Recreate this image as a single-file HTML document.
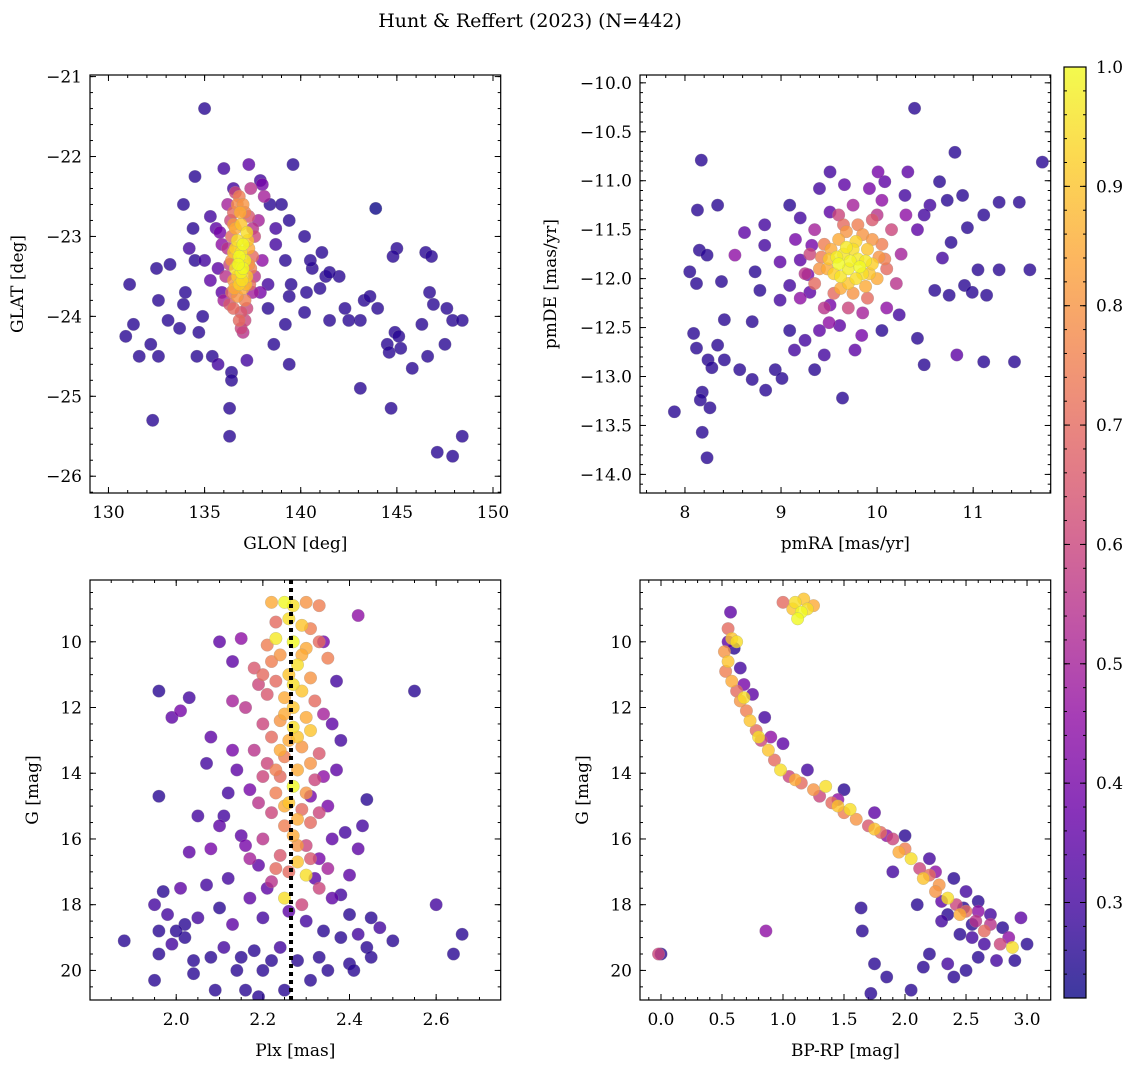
<!DOCTYPE html>
<html><head><meta charset="utf-8"><style>
html,body{margin:0;padding:0;background:#fff}
svg{display:block}
text{font-family:"DejaVu Serif","Liberation Serif",serif;fill:#000}
</style></head><body>
<svg id="fig" width="1136" height="1067" xmlns="http://www.w3.org/2000/svg">
<text x="530" y="27" font-size="19" text-anchor="middle">Hunt &amp; Reffert (2023) (N=442)</text>
</svg>
<script>
// ---- data (x, y, membership probability) ----
const glonGlatField = [[135.0,-21.4,.26],[134.5,-22.25,.26],[136.5,-22.4,.3],[137.9,-22.3,.3],[139.6,-22.1,.26],[133.9,-22.6,.26],[134.4,-22.9,.26],[135.3,-22.75,.3],[138.4,-22.6,.26],[139.0,-22.6,.26],[139.4,-22.8,.26],[138.7,-23.1,.3],[139.2,-23.3,.26],[140.2,-23.0,.26],[141.1,-23.2,.26],[143.9,-22.65,.22],[145.0,-23.15,.26],[144.8,-23.25,.26],[146.5,-23.2,.26],[146.8,-23.25,.26],[141.3,-23.5,.26],[142.0,-23.5,.26],[140.6,-23.4,.26],[140.3,-23.7,.26],[138.3,-23.6,.3],[139.5,-23.6,.26],[139.4,-23.75,.26],[141.0,-23.65,.26],[142.3,-23.9,.26],[143.3,-23.8,.26],[143.6,-23.75,.26],[143.1,-24.05,.26],[144.0,-23.9,.26],[142.5,-24.05,.26],[141.5,-24.05,.26],[140.2,-23.95,.26],[139.2,-24.1,.26],[138.6,-24.35,.26],[139.4,-24.6,.26],[136.4,-24.7,.26],[136.4,-24.8,.26],[136.3,-25.15,.26],[136.3,-25.5,.26],[137.2,-24.55,.3],[135.4,-24.5,.26],[134.7,-24.2,.26],[134.6,-24.5,.26],[135.7,-24.6,.3],[133.7,-24.15,.26],[133.1,-24.05,.26],[132.6,-23.8,.26],[131.1,-23.6,.26],[131.3,-24.1,.26],[130.9,-24.25,.26],[131.6,-24.5,.26],[132.6,-24.5,.26],[132.2,-24.35,.26],[132.3,-25.3,.26],[132.5,-23.4,.26],[133.2,-23.35,.26],[133.9,-23.85,.26],[134.0,-23.7,.26],[134.5,-23.3,.26],[134.2,-23.15,.3],[135.0,-23.3,.3],[135.3,-23.55,.35],[135.7,-23.4,.35],[134.9,-24.0,.26],[143.1,-24.9,.26],[144.5,-24.35,.26],[144.6,-24.45,.26],[144.9,-24.2,.26],[145.1,-24.25,.26],[145.2,-24.4,.26],[144.7,-25.15,.26],[145.8,-24.65,.26],[146.3,-24.1,.26],[146.6,-24.5,.26],[146.7,-23.7,.26],[146.9,-23.85,.26],[147.6,-23.9,.26],[147.9,-24.05,.26],[148.4,-24.05,.26],[147.5,-24.35,.26],[147.1,-25.7,.26],[147.9,-25.75,.26],[148.4,-25.5,.26],[138.3,-23.9,.26],[140.5,-23.3,.26],[141.5,-23.45,.26],[138.7,-22.9,.3],[136.0,-22.15,.3],[137.3,-22.1,.35],[135.9,-23.7,.35],[135.6,-22.9,.35],[138.0,-22.35,.4],[137.9,-23.7,.4]];
const glonGlatMembers = [[136.8,-22.5,.75],[137.0,-22.6,.8],[136.5,-22.7,.7],[137.3,-22.75,.65],[136.6,-22.9,.85],[136.9,-22.85,.9],[137.2,-22.95,.95],[136.4,-23.0,.7],[136.7,-23.05,.95],[137.0,-23.1,1.0],[137.3,-23.15,.85],[136.5,-23.2,.9],[136.8,-23.25,1.0],[137.1,-23.3,.98],[136.3,-23.35,.6],[136.6,-23.4,.95],[136.9,-23.45,.99],[137.2,-23.5,.9],[136.5,-23.55,.8],[136.8,-23.6,.92],[137.0,-23.65,.85],[136.4,-23.7,.7],[136.7,-23.75,.8],[137.1,-23.8,.75],[136.9,-23.95,.65],[137.4,-23.4,.75],[137.6,-23.0,.6],[136.1,-23.5,.55],[137.5,-23.7,.5],[136.2,-22.6,.5],[137.8,-22.8,.5],[138.0,-23.3,.45],[135.9,-23.1,.45],[136.9,-24.15,.6],[137.0,-24.2,.55],[136.6,-22.45,.6],[137.4,-22.4,.55],[137.5,-23.25,.7],[136.3,-23.85,.65],[136.0,-23.8,.5],[135.8,-22.95,.4],[138.1,-22.5,.5],[136.9,-23.2,.97],[136.7,-23.5,.9],[137.0,-23.4,1.0],[136.85,-22.7,.85],[137.15,-23.6,.88],[136.6,-23.15,.93],[136.5,-22.85,.8],[137.1,-22.7,.75],[136.4,-23.3,.8],[137.3,-23.35,.8],[136.5,-23.9,.7],[137.2,-23.9,.6],[136.7,-22.6,.78],[137.25,-23.05,.9],[136.75,-23.35,1.0],[136.95,-23.55,.95],[136.55,-23.65,.85],[137.35,-23.6,.7],[136.35,-22.8,.6],[137.5,-22.9,.55],[136.8,-24.05,.7],[137.1,-24.05,.6],[136.2,-23.15,.55],[137.6,-23.5,.55]];
const pmField = [[10.39,-10.26,.26],[11.72,-10.81,.26],[10.81,-10.71,.26],[8.17,-10.79,.26],[9.51,-10.91,.3],[9.40,-11.08,.3],[10.01,-10.91,.4],[10.08,-11.01,.35],[10.32,-10.91,.35],[10.65,-11.01,.26],[10.29,-11.15,.3],[9.66,-11.04,.35],[9.92,-11.08,.4],[8.34,-11.25,.26],[8.13,-11.30,.26],[8.83,-11.45,.3],[9.09,-11.25,.26],[9.20,-11.38,.3],[8.62,-11.53,.35],[8.15,-11.71,.26],[8.23,-11.76,.26],[8.05,-11.93,.26],[8.12,-12.05,.26],[8.52,-11.76,.45],[8.83,-11.66,.3],[8.99,-11.83,.35],[9.32,-11.66,.4],[9.20,-11.81,.35],[9.28,-11.96,.4],[9.09,-12.07,.3],[8.78,-12.12,.26],[8.99,-12.22,.3],[9.30,-12.14,.35],[9.51,-12.27,.4],[8.38,-12.03,.26],[8.70,-12.44,.26],[8.41,-12.42,.26],[8.09,-12.56,.26],[8.12,-12.71,.26],[8.34,-12.68,.26],[8.24,-12.83,.26],[8.41,-12.83,.26],[8.28,-12.91,.26],[8.18,-13.16,.26],[8.16,-13.24,.26],[8.26,-13.32,.26],[8.18,-13.57,.26],[7.89,-13.36,.26],[8.23,-13.83,.26],[8.57,-12.93,.26],[8.70,-13.03,.26],[8.84,-13.14,.26],[8.94,-12.93,.26],[9.01,-13.02,.26],[9.14,-12.73,.3],[9.25,-12.63,.3],[9.09,-12.53,.26],[9.40,-12.53,.35],[9.61,-12.48,.35],[9.45,-12.78,.3],[9.35,-12.93,.26],[9.64,-13.22,.26],[9.77,-12.73,.35],[9.84,-12.58,.4],[10.05,-12.53,.26],[10.42,-12.61,.26],[10.23,-12.37,.3],[10.60,-12.12,.26],[10.75,-12.17,.26],[10.91,-12.07,.26],[11.05,-11.91,.26],[11.27,-11.91,.26],[10.68,-11.79,.3],[10.77,-11.63,.26],[10.94,-11.48,.26],[11.11,-11.35,.26],[11.27,-11.22,.26],[11.48,-11.22,.26],[11.59,-11.91,.26],[11.43,-12.85,.26],[11.11,-12.85,.26],[10.83,-12.78,.35],[10.49,-12.88,.26],[10.99,-12.14,.26],[11.14,-12.17,.26],[10.55,-11.25,.3],[10.49,-11.35,.3],[10.42,-11.50,.35],[10.89,-11.15,.26],[10.73,-11.20,.26],[9.51,-11.32,.35],[8.73,-11.93,.26]];
const pmMembers = [[9.60,-11.85,1.0],[9.70,-11.90,.98],[9.80,-11.80,.97],[9.75,-11.70,.95],[9.65,-11.75,.96],[9.85,-11.95,.95],[9.55,-11.95,.92],[9.90,-11.70,.9],[9.50,-11.80,.9],[9.70,-12.05,.9],[9.95,-11.85,.92],[9.60,-11.60,.85],[9.85,-11.55,.8],[10.00,-12.00,.85],[9.40,-11.90,.8],[9.75,-12.15,.8],[10.05,-11.65,.75],[9.45,-11.65,.75],[9.55,-12.15,.7],[10.10,-11.90,.7],[9.35,-12.05,.7],[9.80,-11.45,.75],[9.90,-12.20,.7],[9.65,-11.45,.7],[10.15,-11.50,.6],[9.30,-11.75,.6],[9.95,-11.40,.65],[9.45,-12.30,.55],[10.20,-12.05,.55],[9.70,-12.30,.6],[10.00,-11.35,.55],[9.25,-11.95,.55],[9.60,-11.35,.6],[9.85,-12.35,.5],[10.25,-11.75,.5],[9.35,-11.50,.5],[9.50,-12.45,.45],[10.10,-12.30,.45],[9.20,-12.20,.45],[10.30,-11.35,.45],[9.75,-11.25,.5],[10.05,-11.20,.45],[9.15,-11.60,.4],[9.72,-11.82,.99],[9.62,-11.98,.96],[9.88,-11.82,.97],[9.78,-11.62,.93],[9.52,-11.70,.85],[10.02,-11.78,.8],[9.58,-11.78,.98],[9.82,-11.88,1.0],[9.68,-11.68,.97],[9.92,-11.95,.9],[9.48,-11.9,.85],[9.78,-12.0,.95],[9.62,-12.1,.85],[9.95,-11.6,.8],[9.42,-11.78,.75],[10.08,-11.8,.75],[9.68,-11.52,.8],[9.88,-12.08,.85]];
const plxField = [[1.88,19.1,.26],[1.96,11.5,.26],[1.96,14.7,.26],[1.95,18.0,.3],[1.96,19.5,.26],[1.95,20.3,.26],[1.96,18.8,.26],[1.98,18.3,.3],[2.02,18.6,.26],[2.04,19.7,.26],[1.99,19.2,.3],[2.01,17.5,.35],[2.04,20.1,.26],[2.03,16.4,.35],[2.07,17.4,.3],[2.08,19.6,.26],[2.09,20.6,.26],[2.08,16.3,.4],[1.99,12.3,.35],[2.01,12.1,.4],[2.03,11.7,.3],[2.08,12.9,.35],[2.07,13.7,.3],[2.10,10.0,.35],[2.13,10.6,.35],[2.15,9.9,.45],[2.13,11.8,.5],[2.05,15.3,.3],[2.10,15.6,.35],[2.12,14.6,.3],[2.15,15.9,.35],[2.12,17.2,.3],[2.10,18.1,.26],[2.13,18.6,.35],[2.15,19.6,.26],[2.18,19.4,.26],[2.20,20.0,.26],[2.19,20.8,.26],[2.17,17.8,.35],[2.19,16.8,.35],[2.16,16.2,.4],[2.20,18.4,.3],[2.22,19.7,.26],[2.25,20.6,.26],[2.24,19.3,.3],[2.21,17.5,.35],[2.13,13.3,.4],[2.14,13.9,.35],[2.11,15.3,.3],[2.17,14.5,.4],[2.31,20.3,.26],[2.33,19.6,.26],[2.34,18.8,.26],[2.36,17.8,.35],[2.35,20.0,.26],[2.38,19.0,.26],[2.40,19.8,.26],[2.41,20.0,.26],[2.42,18.9,.3],[2.44,19.3,.26],[2.45,18.4,.26],[2.47,18.7,.3],[2.45,19.6,.26],[2.50,19.1,.26],[2.60,18.0,.3],[2.64,19.5,.26],[2.66,18.9,.26],[2.55,11.5,.26],[2.43,15.6,.3],[2.44,14.8,.26],[2.42,16.3,.35],[2.40,17.1,.35],[2.38,13.0,.3],[2.36,12.5,.35],[2.37,11.2,.3],[2.34,10.0,.4],[2.42,9.2,.45],[2.37,13.9,.35],[2.39,15.8,.3],[2.35,15.0,.4],[2.33,16.6,.4],[2.32,17.2,.35],[2.36,16.0,.35],[2.34,14.1,.45],[2.31,14.7,.4],[2.38,17.7,.3],[2.40,18.3,.26],[2.30,18.5,.3],[2.28,19.7,.26],[2.26,18.2,.35],[2.05,18.4,.3],[2.02,19.0,.26],[1.97,17.6,.26],[2.00,18.8,.26],[2.11,19.3,.3],[2.14,20.0,.26],[2.16,20.6,.26]];
const plxMembers = [[2.25,8.8,1.0],[2.27,8.9,.95],[2.30,8.8,.8],[2.33,8.9,.75],[2.22,8.8,.85],[2.26,9.3,.95],[2.29,9.5,.9],[2.23,9.9,.97],[2.27,10.0,1.0],[2.30,10.2,.85],[2.24,10.4,.8],[2.21,10.1,.75],[2.33,10.0,.7],[2.35,10.5,.75],[2.18,10.8,.65],[2.20,11.0,.7],[2.23,11.2,.7],[2.26,11.0,.9],[2.28,10.7,.95],[2.31,11.1,.8],[2.29,11.5,.9],[2.25,11.7,.85],[2.21,11.6,.65],[2.19,11.3,.6],[2.32,11.8,.7],[2.27,12.0,.9],[2.30,12.3,.85],[2.24,12.4,.8],[2.27,12.6,.95],[2.31,12.7,.9],[2.22,12.9,.7],[2.26,13.0,.85],[2.29,13.2,.8],[2.25,13.5,.75],[2.33,13.4,.65],[2.21,13.7,.6],[2.28,13.9,.85],[2.24,14.1,.7],[2.27,14.4,1.0],[2.30,14.6,.8],[2.23,14.6,.75],[2.26,14.9,.9],[2.29,15.1,.7],[2.22,15.2,.6],[2.31,15.5,.7],[2.25,15.6,.75],[2.27,15.9,.85],[2.20,16.0,.55],[2.30,16.2,.6],[2.24,16.5,.65],[2.28,16.7,.9],[2.26,17.0,.7],[2.30,17.1,.95],[2.22,17.3,.55],[2.33,17.5,.6],[2.25,17.8,.95],[2.29,18.0,.6],[2.19,14.9,.55],[2.17,16.6,.5],[2.34,12.2,.5],[2.35,16.9,.5],[2.20,12.5,.6],[2.18,13.3,.55],[2.16,12.0,.55],[2.32,14.2,.6],[2.23,9.4,.7],[2.31,9.6,.75],[2.28,15.4,.85],[2.24,13.3,.85],[2.27,11.3,.95],[2.22,10.6,.75],[2.29,10.4,.85],[2.25,12.2,.85],[2.28,12.9,.9],[2.23,13.9,.75],[2.31,13.7,.8],[2.25,15.0,.85],[2.28,16.2,.8],[2.23,16.9,.7],[2.31,16.6,.65],[2.20,14.1,.6],[2.33,15.2,.6]];
const cmdField = [[0.6,10.2,.26],[0.65,10.8,.3],[0.75,11.6,.35],[0.85,12.3,.3],[1.0,13.1,.35],[1.2,13.9,.3],[1.5,14.5,.26],[1.75,15.2,.35],[2.0,15.9,.26],[2.2,16.6,.3],[2.4,17.2,.26],[2.5,17.6,.3],[2.6,17.9,.26],[2.55,18.6,.26],[2.7,18.3,.3],[2.8,18.7,.26],[2.95,18.4,.35],[3.0,19.2,.26],[2.9,19.7,.26],[2.75,19.7,.3],[2.6,19.6,.26],[2.5,20.0,.26],[2.4,20.2,.26],[2.35,19.8,.3],[2.2,19.5,.26],[2.15,19.9,.26],[2.05,20.6,.26],[1.75,19.8,.26],[1.85,20.2,.26],[1.72,20.7,.26],[1.65,18.8,.26],[1.64,18.1,.26],[0.86,18.8,.45],[0.0,19.5,.26],[-0.02,19.5,.6],[2.3,18.5,.3],[2.45,18.9,.26],[2.65,19.2,.3],[2.3,17.9,.35],[2.1,18.0,.26],[1.9,17.0,.3],[2.35,18.3,.26],[2.55,19.0,.3],[2.48,18.1,.26],[0.55,10.0,.35],[0.68,11.3,.4],[0.9,12.9,.45],[1.45,14.8,.45],[1.85,15.9,.45],[2.25,17.0,.45],[2.6,18.2,.45],[2.85,19.0,.45]];
const cmdMembers = [[0.57,9.1,.35],[0.55,9.6,.7],[0.58,9.9,.9],[0.62,10.0,.95],[0.52,10.3,.8],[0.55,10.6,.9],[0.53,10.9,.75],[0.58,11.2,.85],[0.62,11.5,.7],[0.65,11.8,.8],[0.70,12.1,.75],[0.73,12.4,.9],[0.78,12.7,.7],[0.82,13.0,.6],[0.88,13.3,.9],[0.93,13.6,.7],[0.98,13.9,.95],[1.05,14.1,.6],[1.15,14.3,.7],[1.25,14.5,.8],[1.35,14.4,.95],[1.30,14.7,.6],[1.40,14.9,.7],[1.50,15.2,.75],[1.60,15.4,.8],[1.70,15.6,.65],[1.80,15.8,.7],[1.90,16.0,.6],[2.00,16.3,.75],[2.05,16.6,.95],[2.12,16.9,.6],[2.20,17.1,.7],[2.28,17.4,.8],[2.35,17.8,.95],[2.42,18.0,.6],[2.50,18.2,.7],[2.58,18.5,.55],[2.65,18.8,.7],[2.78,19.2,.6],[2.88,19.3,.95],[1.45,15.0,.9],[1.55,15.1,.95],[1.75,15.7,.9],[1.95,16.4,.85],[2.25,17.6,.8],[0.68,11.7,.95],[0.80,12.9,.95],[1.10,14.2,.85],[2.15,17.2,.9],[2.45,18.3,.85],[2.70,18.6,.55],[1.10,8.8,.95],[1.17,8.7,.9],[1.15,9.1,1.0],[1.12,9.3,1.0],[1.20,9.0,.95],[1.25,8.9,.85],[1.00,8.8,.7],[1.08,9.0,.9]];
const colorbarTicks = [0.3,0.4,0.5,0.6,0.7,0.8,0.9,1.0];
const plxMean = 2.265;

// ---- rendering ----
const NS = "http://www.w3.org/2000/svg";
const svg = document.getElementById('fig');
function el(tag, attrs, parent){const e=document.createElementNS(NS,tag);for(const k in attrs)e.setAttribute(k,attrs[k]);(parent||svg).appendChild(e);return e;}
const plasma=[[13,8,135],[65,4,157],[106,0,168],[143,13,164],[177,42,144],[204,71,120],[225,100,98],[242,132,75],[252,166,54],[252,206,37],[240,249,33]];
const VMIN=0.22,VMAX=1.0;
function cmap(p){let t=(p-VMIN)/(VMAX-VMIN);t=Math.max(0,Math.min(1,t));const f=t*10,i=Math.min(9,Math.floor(f)),r=f-i;const a=plasma[i],b=plasma[i+1];return 'rgb('+a.map((v,k)=>Math.round(v+(b[k]-v)*r)).join(',')+')';}
function fmt(v,d){const s=Math.abs(v).toFixed(d);return (v<-1e-9?'\u2212':'')+s;}

function panel(o){
  const g=el('g',{});
  
  
  const X=v=>o.x0+(v-o.xmin)/(o.xmax-o.xmin)*(o.x1-o.x0);
  const Y=o.yinv?(v=>o.y0+(v-o.ymin)/(o.ymax-o.ymin)*(o.y1-o.y0)):(v=>o.y1-(v-o.ymin)/(o.ymax-o.ymin)*(o.y1-o.y0));
  const tk=el('g',{stroke:'#000','stroke-width':1},g);
  
  
  const lo=Math.min(o.ymin,o.ymax),hi=Math.max(o.ymin,o.ymax);
  for(let v=Math.ceil(o.xmin/o.xminor-1e-6)*o.xminor;v<=o.xmax+1e-9;v+=o.xminor){const px=X(v);el('line',{x1:px,x2:px,y1:o.y1,y2:o.y1-3},tk);el('line',{x1:px,x2:px,y1:o.y0,y2:o.y0+3},tk);}
  for(let v=Math.ceil(lo/o.yminor-1e-6)*o.yminor;v<=hi+1e-9;v+=o.yminor){const py=Y(v);el('line',{x1:o.x0,x2:o.x0+3,y1:py,y2:py},tk);el('line',{x1:o.x1,x2:o.x1-3,y1:py,y2:py},tk);}
  o.xt.forEach(v=>{const px=X(v);el('line',{x1:px,x2:px,y1:o.y1,y2:o.y1-6},tk);el('line',{x1:px,x2:px,y1:o.y0,y2:o.y0+6},tk);
    const t=el('text',{x:px,y:o.y1+25,'font-size':17,'text-anchor':'middle'},g);t.textContent=fmt(v,o.xd);
    
    });
  o.yt.forEach(v=>{const py=Y(v);el('line',{x1:o.x0,x2:o.x0+6,y1:py,y2:py},tk);el('line',{x1:o.x1,x2:o.x1-6,y1:py,y2:py},tk);
    const t=el('text',{x:o.x0-8,y:py+6,'font-size':17,'text-anchor':'end'},g);t.textContent=fmt(v,o.yd);
    
    });
  const clipId='c'+o.name;const cp=el('clipPath',{id:clipId},g);el('rect',{x:o.x0,y:o.y0,width:o.x1-o.x0,height:o.y1-o.y0},cp);
  const pts=el('g',{'clip-path':'url(#'+clipId+')'},g);
  
  
  const all=o.data.slice().sort((a,b)=>a[2]-b[2]);
  all.forEach(d=>{const c=el('circle',{cx:X(d[0]),cy:Y(d[1]),r:6.3,fill:cmap(d[2]),'fill-opacity':0.8,stroke:'#999','stroke-opacity':0.5,'stroke-width':0.5},pts);
    
    });
  if(o.vline!==undefined){const l=el('line',{x1:X(o.vline),x2:X(o.vline),y1:o.y0,y2:o.y1,stroke:'#000','stroke-width':4,'stroke-dasharray':'4 4'},g);
    
    }
  const fr=el('rect',{x:o.x0,y:o.y0,width:o.x1-o.x0,height:o.y1-o.y0,fill:'none',stroke:'#000','stroke-width':1.2},g);
  
  
  const xl=el('text',{x:(o.x0+o.x1)/2,y:o.y1+56,'font-size':17,'text-anchor':'middle'},g);xl.textContent=o.xlabel;
  
  
  const yl=el('text',{x:0,y:0,'font-size':17,'text-anchor':'middle',transform:'translate('+o.ylx+','+((o.y0+o.y1)/2)+') rotate(-90)'},g);yl.textContent=o.ylabel;
  
  
}
panel({name:'glon-glat-panel',x0:90,x1:500.7,y0:75,y1:493,xmin:129.04,xmax:150.4,ymin:-26.21,ymax:-20.98,yinv:false,
  xt:[130,135,140,145,150],yt:[-21,-22,-23,-24,-25,-26],xd:0,yd:0,xminor:1,yminor:0.2,xlabel:'GLON [deg]',ylabel:'GLAT [deg]',ylx:23,
  data:glonGlatField.concat(glonGlatMembers)});
panel({name:'proper-motion-panel',x0:640,x1:1050.7,y0:75,y1:493,xmin:7.532,xmax:11.807,ymin:-14.19,ymax:-9.92,yinv:false,
  xt:[8,9,10,11],yt:[-10,-10.5,-11,-11.5,-12,-12.5,-13,-13.5,-14],xd:0,yd:1,xminor:0.2,yminor:0.1,xlabel:'pmRA [mas/yr]',ylabel:'pmDE [mas/yr]',ylx:556,
  data:pmField.concat(pmMembers)});
panel({name:'parallax-magnitude-panel',x0:90,x1:500.7,y0:580,y1:1000,xmin:1.801,xmax:2.749,ymin:8.12,ymax:20.9,yinv:true,
  xt:[2.0,2.2,2.4,2.6],yt:[10,12,14,16,18,20],xd:1,yd:0,xminor:0.05,yminor:0.5,xlabel:'Plx [mas]',ylabel:'G [mag]',ylx:38,
  data:plxField.concat(plxMembers),vline:plxMean});
panel({name:'color-magnitude-panel',x0:640,x1:1050.7,y0:580,y1:1000,xmin:-0.172,xmax:3.194,ymin:8.12,ymax:20.9,yinv:true,
  xt:[0,0.5,1.0,1.5,2.0,2.5,3.0],yt:[10,12,14,16,18,20],xd:1,yd:0,xminor:0.1,yminor:0.5,xlabel:'BP-RP [mag]',ylabel:'G [mag]',ylx:588,
  data:cmdField.concat(cmdMembers)});

// colorbar
const cb=el('g',{});


const defs=el('defs',{},cb);const lg=el('linearGradient',{id:'cbg',x1:0,y1:1,x2:0,y2:0},defs);
for(let i=0;i<=20;i++){const p=VMIN+(VMAX-VMIN)*i/20;el('stop',{offset:(i/20),'stop-color':cmap(p),'stop-opacity':0.8},lg);}
const CB={x0:1064,x1:1086,y0:67,y1:998};
const CY=v=>CB.y1-(v-VMIN)/(VMAX-VMIN)*(CB.y1-CB.y0);
el('rect',{x:CB.x0,y:CB.y0,width:CB.x1-CB.x0,height:CB.y1-CB.y0,fill:'url(#cbg)',stroke:'#000','stroke-width':1.2},cb);
for(let v=0.24;v<=1.0001;v+=0.02){const y=CY(v);el('line',{x1:CB.x1,x2:CB.x1-3,y1:y,y2:y,stroke:'#000'},cb);el('line',{x1:CB.x0,x2:CB.x0+3,y1:y,y2:y,stroke:'#000'},cb);}
colorbarTicks.forEach(v=>{const y=CY(v);el('line',{x1:CB.x1,x2:CB.x1-6,y1:y,y2:y,stroke:'#000'},cb);el('line',{x1:CB.x0,x2:CB.x0+6,y1:y,y2:y,stroke:'#000'},cb);
  const t=el('text',{x:CB.x1+10,y:y+6,'font-size':17},cb);t.textContent=v.toFixed(1);
  
  });
</script>
</body></html>
